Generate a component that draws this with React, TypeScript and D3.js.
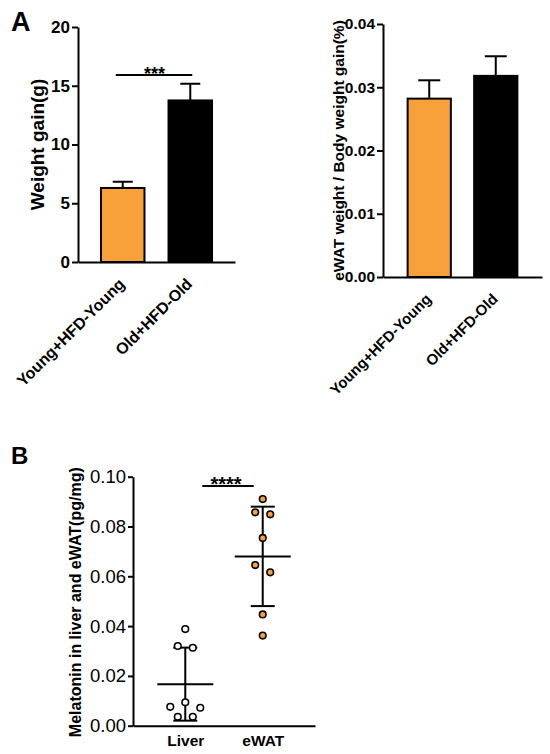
import * as d3 from "d3";
import { useEffect, useRef } from "react";

// Panel A: weight gain and eWAT ratio, mean + SEM
const groups = ["Young+HFD-Young", "Old+HFD-Old"];
const weightGainMean = [6.3, 13.75];
const weightGainSem = [0.53, 1.42];
const weightTicks = [0, 5, 10, 15, 20];

const ratioMean = [0.0282, 0.0318];
const ratioSem = [0.0029, 0.0031];
const ratioTicks = [0, 0.01, 0.02, 0.03, 0.04];

// Panel B: melatonin per animal
const tissues = ["Liver", "eWAT"];
const liverMelatonin = [0.0388, 0.032, 0.0313, 0.0094, 0.0076, 0.0072, 0.0036, 0.0036];
const eWATMelatonin = [0.091, 0.0857, 0.0849, 0.0754, 0.0645, 0.0616, 0.0447, 0.0362];
const melatoninTicks = [0, 0.02, 0.04, 0.06, 0.08, 0.1];

const ORANGE = "#F8A13A";
const barColors = [ORANGE, "#000000"];
const pointFills = ["#ffffff", ORANGE];
const FONT = "'Liberation Sans', Arial, sans-serif";

type Sel = d3.Selection<SVGSVGElement, unknown, null, undefined>;

function barPanel(
  svg: Sel,
  o: {
    x0: number; x1: number; top: number; bottom: number;
    max: number; ticks: number[]; fmt: (d: number) => string;
    means: number[]; sems: number[]; cap: number;
    padIn: number; padOut: number;
    tickFont: number; labelFont: number;
    title: string; titleX: number; titleFont: number;
  }
) {
  const g = svg.append("g");
  const y = d3.scaleLinear().domain([0, o.max]).range([o.bottom, o.top]);
  const x = d3
    .scaleBand()
    .domain(groups)
    .range([o.x0, o.x1])
    .paddingInner(o.padIn)
    .paddingOuter(o.padOut);

  // bars
  g.selectAll("rect.bar")
    .data(groups)
    .enter()
    .append("rect")
    .attr("x", (d) => x(d) as number)
    .attr("y", (d, i) => y(o.means[i]))
    .attr("width", x.bandwidth())
    .attr("height", (d, i) => y(0) - y(o.means[i]))
    .attr("fill", (d, i) => barColors[i])
    .attr("stroke", "#000")
    .attr("stroke-width", 2);

  // upper error bars
  groups.forEach((d, i) => {
    const cx = (x(d) as number) + x.bandwidth() / 2;
    g.append("line")
      .attr("x1", cx).attr("x2", cx)
      .attr("y1", y(o.means[i])).attr("y2", y(o.means[i] + o.sems[i]))
      .attr("stroke", "#000").attr("stroke-width", 2);
    g.append("line")
      .attr("x1", cx - o.cap / 2).attr("x2", cx + o.cap / 2)
      .attr("y1", y(o.means[i] + o.sems[i])).attr("y2", y(o.means[i] + o.sems[i]))
      .attr("stroke", "#000").attr("stroke-width", 2);
  });

  // y axis
  const ya = g
    .append("g")
    .attr("transform", `translate(${o.x0},0)`)
    .call(
      d3.axisLeft(y).tickValues(o.ticks).tickFormat(o.fmt as any).tickSize(6).tickSizeOuter(0).tickPadding(2)
    );
  ya.selectAll("path, line").attr("stroke", "#000").attr("stroke-width", 2);
  ya.selectAll("text")
    .attr("font-family", FONT)
    .attr("font-weight", "bold")
    .attr("font-size", o.tickFont)
    .attr("fill", "#000");

  // x axis
  const xa = g
    .append("g")
    .attr("transform", `translate(0,${o.bottom})`)
    .call(d3.axisBottom(x).tickSize(0).tickSizeOuter(0));
  xa.select("path").attr("stroke", "#000").attr("stroke-width", 2);
  xa.selectAll("text")
    .attr("x", 0)
    .attr("y", 0)
    .attr("dy", 0)
    .attr("transform", "translate(3,23) rotate(-45)")
    .attr("text-anchor", "end")
    .attr("font-family", FONT)
    .attr("font-weight", "bold")
    .attr("font-size", o.labelFont)
    .attr("fill", "#000");

  // y title
  g.append("text")
    .attr("transform", `translate(${o.titleX},${(o.top + o.bottom) / 2}) rotate(-90)`)
    .attr("text-anchor", "middle")
    .attr("font-family", FONT)
    .attr("font-weight", "bold")
    .attr("font-size", o.titleFont)
    .text(o.title);

  return { x, y };
}

// spread points that share a row, GraphPad style
function dodge(values: number[], y: (v: number) => number, rowGap: number, spacing: number) {
  const sorted = [...values].sort((a, b) => b - a);
  const rows: number[][] = [];
  sorted.forEach((v) => {
    const last = rows[rows.length - 1];
    if (last && Math.abs(y(v) - y(last[0])) < rowGap) last.push(v);
    else rows.push([v]);
  });
  const out: { v: number; dx: number }[] = [];
  rows.forEach((row) => {
    const n = row.length;
    const slots: number[] = [];
    if (n % 2 === 1) {
      slots.push(0);
      for (let k = 1; slots.length < n; k++) slots.push(-k, k);
    } else {
      for (let k = 0.5; slots.length < n; k++) slots.push(-k, k);
    }
    row.forEach((v, i) => out.push({ v, dx: slots[i] * spacing }));
  });
  return out;
}

function App() {
  const ref = useRef<SVGSVGElement>(null);

  useEffect(() => {
    const svg = d3.select(ref.current as SVGSVGElement);
    svg.selectAll("*").remove();

    // panel letters
    svg.append("text").attr("x", 11).attr("y", 31).attr("font-family", FONT)
      .attr("font-weight", "bold").attr("font-size", 27).text("A");
    svg.append("text").attr("x", 11).attr("y", 464).attr("font-family", FONT)
      .attr("font-weight", "bold").attr("font-size", 24).text("B");

    // A left: weight gain
    const left = barPanel(svg, {
      x0: 78, x1: 235, top: 27, bottom: 262,
      max: 20, ticks: weightTicks, fmt: (d) => String(d),
      means: weightGainMean, sems: weightGainSem, cap: 20,
      padIn: 0.356, padOut: 0.34,
      tickFont: 17, labelFont: 16,
      title: "Weight gain(g)", titleX: 44, titleFont: 19,
    });
    const c0 = (left.x(groups[0]) as number) + left.x.bandwidth() / 2;
    const c1 = (left.x(groups[1]) as number) + left.x.bandwidth() / 2;
    svg.append("line").attr("x1", c0 - 7).attr("x2", c1 + 2).attr("y1", 75).attr("y2", 75)
      .attr("stroke", "#000").attr("stroke-width", 2);
    svg.append("text").attr("x", (c0 + c1) / 2 - 2).attr("y", 80).attr("text-anchor", "middle")
      .attr("font-family", FONT).attr("font-weight", "bold").attr("font-size", 18).text("***");

    // A right: eWAT ratio
    barPanel(svg, {
      x0: 383, x1: 542, top: 24, bottom: 277,
      max: 0.04, ticks: ratioTicks, fmt: d3.format(".2f"),
      means: ratioMean, sems: ratioSem, cap: 22,
      padIn: 0.35, padOut: 0.37,
      tickFont: 15.5, labelFont: 15,
      title: "eWAT weight / Body weight gain(%)", titleX: 344, titleFont: 15.5,
    });

    // B: melatonin scatter
    const gB = svg.append("g");
    const yB = d3.scaleLinear().domain([0, 0.1]).range([725.7, 476.7]);
    const xB = d3.scalePoint().domain(tissues).range([133, 315]).padding(0.675);

    const yaB = gB.append("g").attr("transform", "translate(133,0)")
      .call(d3.axisLeft(yB).tickValues(melatoninTicks).tickFormat(d3.format(".2f") as any)
        .tickSize(5).tickSizeOuter(0).tickPadding(2));
    yaB.selectAll("path, line").attr("stroke", "#000").attr("stroke-width", 2);
    yaB.selectAll("text").attr("font-family", FONT).attr("font-size", 18.5).attr("fill", "#000");

    const xaB = gB.append("g").attr("transform", `translate(0,${yB(0)})`)
      .call(d3.axisBottom(xB).tickSize(0).tickSizeOuter(0));
    xaB.select("path").attr("stroke", "#000").attr("stroke-width", 2);
    xaB.selectAll("text").attr("y", 20).attr("dy", 0).attr("font-family", FONT).attr("font-weight", "bold")
      .attr("font-size", 15.5).attr("fill", "#000");

    gB.append("text")
      .attr("transform", `translate(81,${(yB(0) + yB(0.1)) / 2 + 1}) rotate(-90)`)
      .attr("text-anchor", "middle").attr("font-family", FONT).attr("font-weight", "bold")
      .attr("font-size", 16).text("Melatonin in liver and eWAT(pg/mg)");

    [liverMelatonin, eWATMelatonin].forEach((vals, i) => {
      const cx = xB(tissues[i]) as number;
      const m = d3.mean(vals) as number;
      const sd = d3.deviation(vals) as number;
      const line = (x1: number, x2: number, y1: number, y2: number) =>
        gB.append("line").attr("x1", x1).attr("x2", x2).attr("y1", y1).attr("y2", y2)
          .attr("stroke", "#000").attr("stroke-width", 2);
      line(cx, cx, yB(m - sd), yB(m + sd));
      line(cx - 28, cx + 28, yB(m), yB(m));
      line(cx - 12, cx + 12, yB(m + sd), yB(m + sd));
      line(cx - 12, cx + 12, yB(m - sd), yB(m - sd));

      gB.selectAll(`circle.p${i}`)
        .data(dodge(vals, yB, 9, 15))
        .enter()
        .append("circle")
        .attr("cx", (d) => cx + d.dx)
        .attr("cy", (d) => yB(d.v))
        .attr("r", 3.3)
        .attr("fill", pointFills[i])
        .attr("stroke", "#000")
        .attr("stroke-width", 1.6);
    });

    const l0 = xB(tissues[0]) as number;
    const l1 = xB(tissues[1]) as number;
    gB.append("line").attr("x1", l0 + 17).attr("x2", l1 - 9).attr("y1", 486).attr("y2", 486)
      .attr("stroke", "#000").attr("stroke-width", 2);
    gB.append("text").attr("x", (l0 + l1) / 2 + 2).attr("y", 491).attr("text-anchor", "middle")
      .attr("font-family", FONT).attr("font-weight", "bold").attr("font-size", 20).text("****");
  }, []);

  return (
    <svg
      ref={ref}
      width={550}
      height={754}
      style={{ position: "absolute", left: 0, top: 0, background: "#fff" }}
    />
  );
}

export default App;
